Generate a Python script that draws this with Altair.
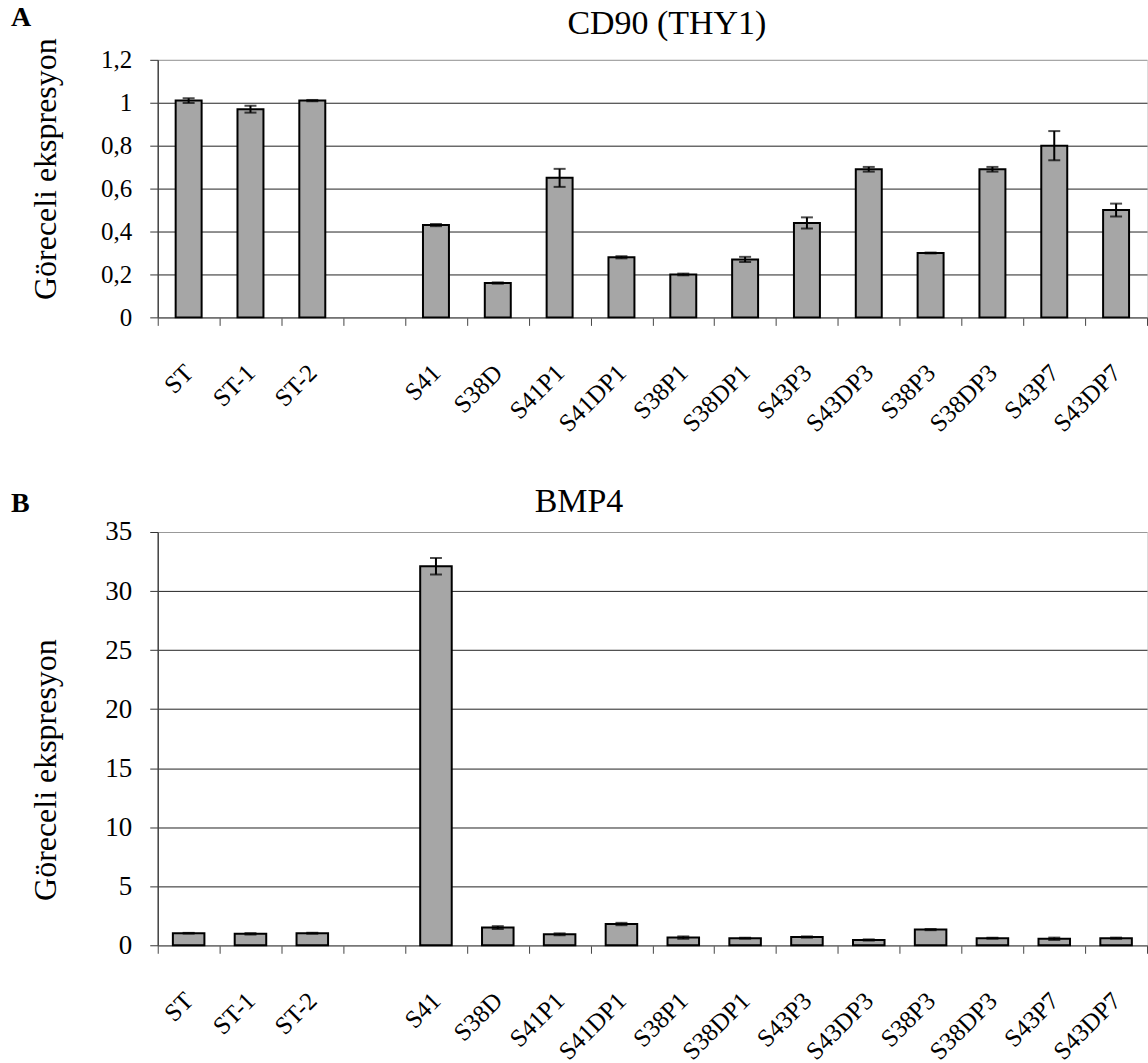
import altair as alt
import pandas as pd

categories = ["ST", "ST-1", "ST-2", " ", "S41", "S38D", "S41P1", "S41DP1", "S38P1",
              "S38DP1", "S43P3", "S43DP3", "S38P3", "S38DP3", "S43P7", "S43DP7"]

values_a = [1.01, 0.97, 1.01, None, 0.43, 0.16, 0.65, 0.28, 0.20, 0.27, 0.44, 0.69, 0.30, 0.69, 0.80, 0.50]
errors_a = [0.011, 0.016, 0.003, None, 0.005, 0.003, 0.042, 0.005, 0.004, 0.012, 0.026, 0.011, 0.002, 0.011, 0.068, 0.030]

values_b = [1.02, 0.97, 1.02, None, 32.1, 1.5, 0.93, 1.8, 0.65, 0.6, 0.7, 0.45, 1.33, 0.6, 0.55, 0.6]
errors_b = [0.03, 0.06, 0.04, None, 0.7, 0.12, 0.08, 0.1, 0.1, 0.04, 0.05, 0.05, 0.05, 0.04, 0.1, 0.05]

ticks_a = [0, 0.2, 0.4, 0.6, 0.8, 1.0, 1.2]
ticks_b = [0, 5, 10, 15, 20, 25, 30, 35]

FONT = "Liberation Serif"
W = 991


def frame(vals, errs):
    rows = []
    for c, v, e in zip(categories, vals, errs):
        if v is None:
            continue
        rows.append({"cat": c, "val": v, "lo": v - e, "hi": v + e})
    return pd.DataFrame(rows)


def panel(vals, errs, ticks, title, letter, height, tick_font, bar_band,
          title_x, title_y, ytitle_y, letter_y, xlab_pad):
    df = frame(vals, errs)
    top = ticks[-1]
    x = alt.X("cat:N", sort=categories, scale=alt.Scale(domain=categories, paddingInner=0, paddingOuter=0),
              axis=alt.Axis(title=None, labelAngle=-45, labelAlign="right", labelBaseline="middle",
                            labelFont=FONT, labelFontSize=25, labelColor="black",
                            labelPadding=xlab_pad, tickBand="extent", tickSize=8, tickColor="#444",
                            domainColor="#777", domainWidth=1.5, labelOverlap=False))
    y = alt.Y("val:Q", scale=alt.Scale(domain=[0, top], nice=False, zero=True),
              axis=alt.Axis(title="Göreceli ekspresyon", titleFont=FONT, titleFontSize=32,
                            titleFontWeight="normal", titleColor="black", titleAngle=270,
                            titleX=-112, titleY=ytitle_y, titleAlign="center", titleBaseline="middle",
                            values=ticks, labelFont=FONT, labelFontSize=tick_font, labelColor="black",
                            labelExpr="replace(format(datum.value, '~g'), '.', ',')",
                            labelPadding=18, tickSize=8, tickColor="#333", domainColor="#444",
                            domainWidth=1.5, grid=True,
                            gridColor={"condition": {"test": f"datum.value >= {top}", "value": "#999999"},
                                       "value": "#222222"},
                            gridWidth=1))
    base = alt.Chart(df)
    bars = base.mark_bar(color="#a6a6a6", stroke="black", strokeWidth=2,
                         width=alt.RelativeBandSize(bar_band)).encode(x=x, y=y)
    rule = base.mark_rule(color="black", strokeWidth=2).encode(
        x=alt.X("cat:N", sort=categories), y="lo:Q", y2="hi:Q")
    caps = base.transform_fold(["lo", "hi"], as_=["k", "v"]).mark_tick(
        color="black", size=12, thickness=2, orient="horizontal").encode(
        x=alt.X("cat:N", sort=categories), y="v:Q")
    lab = alt.Chart(pd.DataFrame({"t": [letter]})).mark_text(
        font=FONT, fontSize=28, fontWeight="bold", align="left", baseline="alphabetic",
        color="black").encode(text="t:N", x=alt.value(-147), y=alt.value(letter_y))
    ttl = alt.Chart(pd.DataFrame({"t": [title]})).mark_text(
        font=FONT, fontSize=34, fontWeight="normal", align="center", baseline="alphabetic",
        color="black").encode(text="t:N", x=alt.value(title_x), y=alt.value(title_y))
    return alt.layer(bars, rule, caps, lab, ttl).properties(width=W, height=height)


chart_a = panel(values_a, errors_a, ticks_a, "CD90 (THY1)", "A", 258, 25, 0.42, 510, -26, 109, -34, 43)
chart_b = panel(values_b, errors_b, ticks_b, "BMP4", "B", 414, 27, 0.51, 422, -20, 238, -20, 43)

chart = alt.vconcat(chart_a, chart_b, spacing=47).properties(
    padding={"left": 10, "top": 2, "right": 0, "bottom": 0}
).configure_view(stroke="#999999", strokeWidth=1.5).configure(background="white")

chart.save("out.html", embed_options={"renderer": "svg", "actions": False})
